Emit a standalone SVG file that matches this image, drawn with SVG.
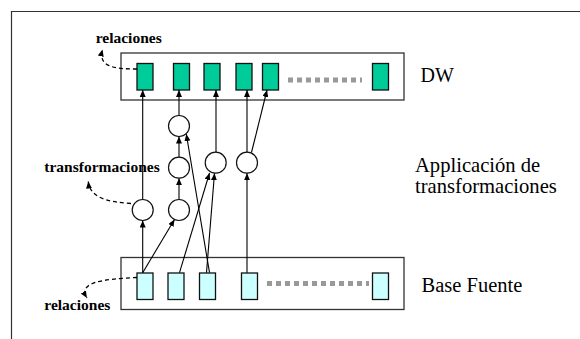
<svg xmlns="http://www.w3.org/2000/svg" width="580" height="339" viewBox="0 0 580 339">
<defs>
<style>
.frame{fill:none;stroke:#333;stroke-width:1.2}
.box{fill:#fff;stroke:#333;stroke-width:1.3}
.g{fill:#00CC99;stroke:#111;stroke-width:1.3}
.c{fill:#CCFFFF;stroke:#111;stroke-width:1.3}
.dots{fill:none;stroke:#999;stroke-width:5;stroke-dasharray:5 4}
.circ{fill:#fff;stroke:#111;stroke-width:1.2}
.arr{fill:none;stroke:#000;stroke-width:1.1;marker-end:url(#ah)}
.dash{fill:none;stroke:#000;stroke-width:1.3;stroke-dasharray:4 3;marker-end:url(#ah)}
.lb{font-weight:bold;font-size:15.5px;fill:#000}
.lr{font-size:20.6px;fill:#000}
</style>
<marker id="ah" viewBox="0 0 7 6" refX="7" refY="3" markerWidth="7" markerHeight="6" markerUnits="userSpaceOnUse" orient="auto">
<path d="M0,0 L7,3 L0,6 z" fill="#000"/>
</marker>
</defs>
<rect width="580" height="339" fill="#fff"/>
<path class="frame" d="M11.5,339 L11.5,11.5 L580,11.5"/>

<g id="dw">
<rect class="box" x="121" y="53" width="283" height="47"/>
<rect class="g" x="137" y="63.5" width="16" height="26.5"/>
<rect class="g" x="173.5" y="63.5" width="16" height="26.5"/>
<rect class="g" x="204" y="63.5" width="16" height="26.5"/>
<rect class="g" x="236" y="63.5" width="16" height="26.5"/>
<rect class="g" x="262.5" y="63.5" width="16" height="26.5"/>
<line class="dots" x1="288" y1="80" x2="362" y2="80"/>
<rect class="g" x="372.5" y="63.5" width="16" height="26.5"/>
<text font-family="Liberation Serif, Tinos, Times New Roman, DejaVu Serif, serif" x="420.5" y="82.3" font-size="20" fill="#000">DW</text>
</g>

<g id="base">
<rect class="box" x="121" y="257.5" width="283" height="52"/>
<rect class="c" x="137" y="273" width="16" height="26.5"/>
<rect class="c" x="168" y="273" width="16" height="26.5"/>
<rect class="c" x="199.5" y="273" width="16" height="26.5"/>
<rect class="c" x="241.5" y="273" width="16" height="26.5"/>
<line class="dots" x1="267" y1="283.5" x2="369" y2="283.5"/>
<rect class="c" x="372.5" y="273" width="16" height="26.5"/>
<text font-family="Liberation Serif, Tinos, Times New Roman, DejaVu Serif, serif" x="421.5" y="291.7" font-size="20.5" fill="#000">Base Fuente</text>
</g>

<g id="t1"><circle class="circ" cx="142.7" cy="210" r="10.5"/></g>
<g id="t2"><circle class="circ" cx="179" cy="210" r="10.5"/></g>
<g id="t3"><circle class="circ" cx="179" cy="167.7" r="10.5"/></g>
<g id="t4"><circle class="circ" cx="179" cy="126" r="10.5"/></g>
<g id="t5"><circle class="circ" cx="215.7" cy="162.7" r="10.5"/></g>
<g id="t6"><circle class="circ" cx="247" cy="162.7" r="10.5"/></g>

<g id="connectors">
<path class="arr" d="M142.7,272.7 L142.7,220.5"/>
<path class="arr" d="M142.7,199.5 L142.7,90"/>
<path class="arr" d="M142.7,272.7 L174.5,219.5"/>
<path class="arr" d="M179,199.5 L179,178.2"/>
<path class="arr" d="M179,157.2 L179,136.5"/>
<path class="arr" d="M179,115.5 L179,90"/>
<path class="arr" d="M209.5,272.7 L186.3,134"/>
<path class="arr" d="M179.5,272.7 L209.5,173"/>
<path class="arr" d="M206.5,272.7 L214.5,173.3"/>
<path class="arr" d="M216,152.2 L216,90"/>
<path class="arr" d="M247,272.7 L247,173.3"/>
<path class="arr" d="M247,152.2 L247,90"/>
<path class="arr" d="M251.5,152.5 L267,90"/>
<path class="dash" d="M137,69 C114,69 98,67 102.5,49.5"/>
<path class="dash" d="M131,203.5 C108,202 90,198 88.3,181.5"/>
<path class="dash" d="M137,277.5 C104,279 77,282 87,298"/>
</g>

<g id="labels" font-family="Liberation Serif, Tinos, Times New Roman, DejaVu Serif, serif">
<text class="lb" x="95.7" y="42.7">relaciones</text>
<text class="lb" x="44.3" y="172">transformaciones</text>
<text class="lb" x="44.3" y="310">relaciones</text>
<text class="lr" x="415" y="171.5">Applicación de</text>
<text class="lr" x="415" y="192.6">transformaciones</text>
</g>
</svg>
